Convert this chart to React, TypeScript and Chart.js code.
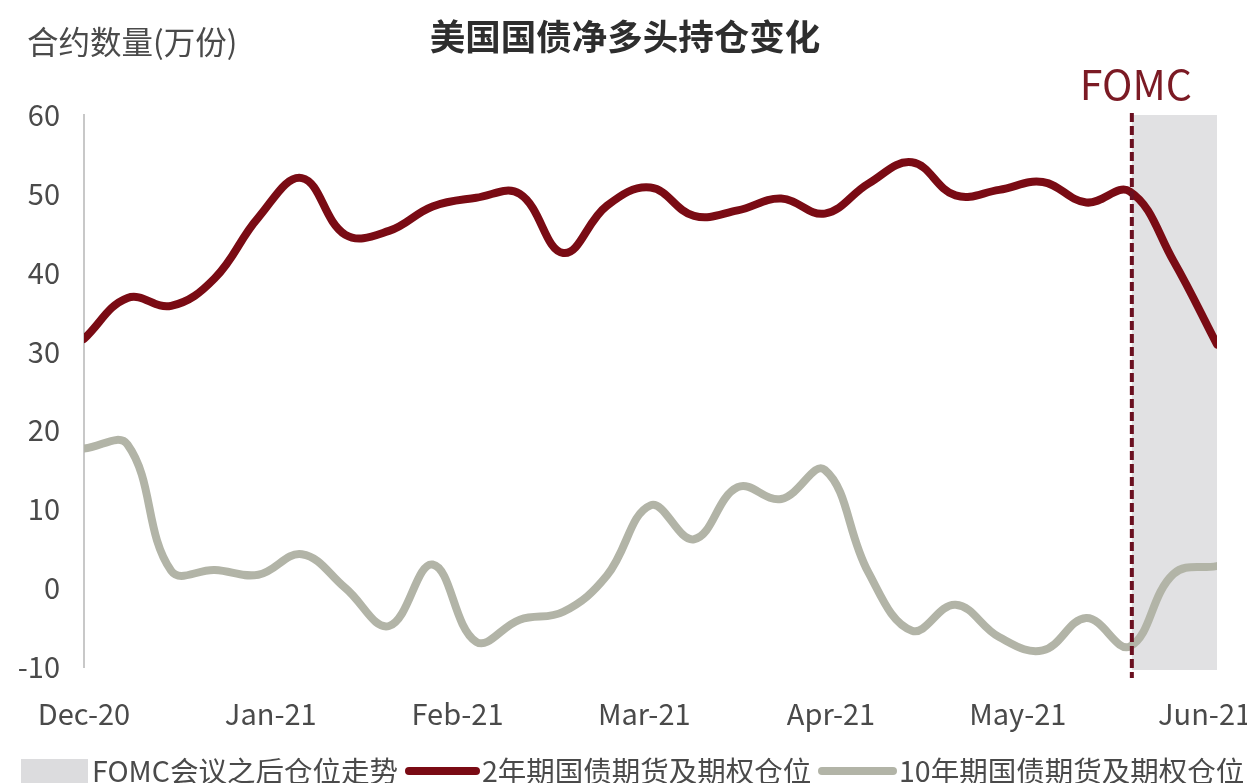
import React, { useEffect, useRef } from "react";
import { Chart, registerables } from "chart.js";

Chart.register(...registerables);

// ---- Data ----
const dates: string[] = [
  "2020-12-29",
  "2021-01-05", "2021-01-12", "2021-01-19", "2021-01-26",
  "2021-02-02", "2021-02-09", "2021-02-16", "2021-02-23",
  "2021-03-02", "2021-03-09", "2021-03-16", "2021-03-23", "2021-03-30",
  "2021-04-06", "2021-04-13", "2021-04-20", "2021-04-27",
  "2021-05-04", "2021-05-11", "2021-05-18", "2021-05-25",
  "2021-06-01", "2021-06-08", "2021-06-15", "2021-06-22", "2021-06-29",
];

const twoYear: number[] = [
  31.6, 36.8, 35.8, 39.3, 47.0, 52.0, 44.8, 45.3, 48.4, 49.5, 50.0, 42.5, 48.5, 50.8,
  47.2, 47.9, 49.4, 47.5, 51.3, 54.0, 49.8, 50.5, 51.5, 48.9, 50.3, 41.5, 30.9,
];

const tenYear: number[] = [
  17.7, 18.2, 2.2, 2.3, 1.7, 4.3, 0.0, -4.8, 3.0, -6.8, -4.0, -3.0, 1.6, 10.5,
  6.2, 12.8, 11.3, 15.0, 2.0, -5.4, -2.1, -6.2, -7.9, -3.8, -7.4, 1.8, 2.8,
];

const tickDates: string[] = [
  "2020-12-29", "2021-01-28", "2021-02-27", "2021-03-29", "2021-04-28", "2021-05-28", "2021-06-27",
];
const tickLabels: string[] = ["Dec-20", "Jan-21", "Feb-21", "Mar-21", "Apr-21", "May-21", "Jun-21"];

const yMin = -10;
const yMax = 60;
const yStep = 10;

const fomcDate = "2021-06-15";

const titleText = "美国国债净多头持仓变化";
const yUnitText = "合约数量(万份)";
const fomcText = "FOMC";
const shadeLabel = "FOMC会议之后仓位走势";
const twoYearLabel = "2年期国债期货及期权仓位";
const tenYearLabel = "10年期国债期货及期权仓位";

// ---- Styles ----
const FONT = '"Noto Sans CJK SC", "Noto Sans", sans-serif';
const RED = "#7A0B14";
const GRAY_LINE = "#B2B4A7";
const SHADE = "#E1E1E3";
const DASH = "#6A1020";
const TEXT = "#4A4A4A";

const toDay = (s: string) => {
  const [y, m, d] = s.split("-").map(Number);
  return Date.UTC(y, m - 1, d) / 86400000;
};

const decorPlugin = {
  id: "decor",
  beforeDatasetsDraw(chart: any) {
    const { ctx, scales } = chart;
    const x0 = scales.x.getPixelForValue(toDay(fomcDate));
    const x1 = scales.x.getPixelForValue(toDay(dates[dates.length - 1]));
    const yT = scales.y.getPixelForValue(yMax);
    const yB = scales.y.getPixelForValue(yMin);
    ctx.save();
    ctx.fillStyle = SHADE;
    ctx.fillRect(x0 + 2, yT, x1 - x0 - 2, yB - yT + 3);
    ctx.restore();
  },
  afterDatasetsDraw(chart: any) {
    const { ctx, chartArea, scales } = chart;
    const x = scales.x.getPixelForValue(toDay(fomcDate)) + 2;
    ctx.save();
    ctx.strokeStyle = DASH;
    ctx.lineWidth = 4;
    ctx.setLineDash([9, 4]);
    ctx.beginPath();
    ctx.moveTo(x, chartArea.top - 2);
    ctx.lineTo(x, chartArea.bottom + 11);
    ctx.stroke();
    ctx.restore();
  },
  afterDraw(chart: any) {
    const { ctx, scales } = chart;
    ctx.save();
    // Title
    ctx.fillStyle = "#2E2E2E";
    ctx.font = `bold 35.5px ${FONT}`;
    ctx.textAlign = "center";
    ctx.textBaseline = "middle";
    ctx.fillText(titleText, 625, 37);
    // Y unit
    ctx.fillStyle = TEXT;
    ctx.font = `31.5px ${FONT}`;
    ctx.textAlign = "left";
    ctx.fillText(yUnitText, 27, 42);
    // FOMC label
    const fx = scales.x.getPixelForValue(toDay(fomcDate));
    ctx.fillStyle = "#7B1A24";
    ctx.font = `41px ${FONT}`;
    ctx.textAlign = "center";
    ctx.fillText(fomcText, fx + 6, 84);

    // Legend
    const ly = 771;
    ctx.font = `28.5px ${FONT}`;
    ctx.textAlign = "left";
    ctx.textBaseline = "middle";
    ctx.fillStyle = "#DCDCDE";
    ctx.fillRect(21, ly - 12, 67, 24);
    ctx.fillStyle = TEXT;
    ctx.fillText(shadeLabel, 92, ly);
    ctx.lineWidth = 8;
    ctx.lineCap = "round";
    ctx.strokeStyle = RED;
    ctx.beginPath();
    ctx.moveTo(409, ly);
    ctx.lineTo(476, ly);
    ctx.stroke();
    ctx.fillText(twoYearLabel, 482, ly);
    ctx.strokeStyle = GRAY_LINE;
    ctx.beginPath();
    ctx.moveTo(822, ly);
    ctx.lineTo(893, ly);
    ctx.stroke();
    ctx.fillText(tenYearLabel, 899, ly);
    ctx.restore();
  },
};

export default function App() {
  const ref = useRef<HTMLCanvasElement | null>(null);

  useEffect(() => {
    if (!ref.current) return;
    const chart = new Chart(ref.current, {
      type: "line",
      data: {
        datasets: [
          {
            label: twoYearLabel,
            data: dates.map((d, i) => ({ x: toDay(d), y: twoYear[i] })),
            borderColor: RED,
            backgroundColor: RED,
            borderWidth: 8,
            tension: 0.4,
            pointRadius: 0,
            fill: false,
            borderCapStyle: "round",
            borderJoinStyle: "round",
          },
          {
            label: tenYearLabel,
            data: dates.map((d, i) => ({ x: toDay(d), y: tenYear[i] })),
            borderColor: GRAY_LINE,
            backgroundColor: GRAY_LINE,
            borderWidth: 8,
            tension: 0.4,
            pointRadius: 0,
            fill: false,
            borderCapStyle: "round",
            borderJoinStyle: "round",
          },
        ],
      },
      options: {
        animation: false,
        responsive: false,
        devicePixelRatio: 1,
        layout: { padding: { top: 115, right: 30, bottom: 0, left: 0 } },
        plugins: {
          legend: { display: false },
          title: { display: false },
          tooltip: { enabled: false },
        },
        scales: {
          x: {
            type: "linear",
            min: toDay(dates[0]),
            max: toDay(dates[dates.length - 1]),
            afterBuildTicks: (s: any) => {
              s.ticks = tickDates.map((d) => ({ value: toDay(d) }));
            },
            afterFit: (s: any) => {
              s.height = 116;
              s.paddingLeft = 0;
              s.paddingRight = 0;
            },
            ticks: {
              callback: (_v: any, i: number) => tickLabels[i],
              font: { family: FONT, size: 29 },
              color: TEXT,
              padding: 30,
              maxRotation: 0,
              autoSkip: false,
            },
            grid: { display: false, drawTicks: false },
            border: { display: false },
          },
          y: {
            min: yMin,
            max: yMax,
            afterFit: (s: any) => {
              s.width = 84;
            },
            ticks: {
              stepSize: yStep,
              font: { family: FONT, size: 29 },
              color: TEXT,
              padding: 24,
            },
            grid: { display: false, drawTicks: false },
            border: { display: true, color: "#C8C8C8", width: 2 },
          },
        },
      },
      plugins: [decorPlugin],
    } as any);
    return () => chart.destroy();
  }, []);

  return (
    <div style={{ position: "fixed", left: 0, top: 0, width: 1247, height: 783, background: "#fff" }}>
      <canvas ref={ref} width={1247} height={783} style={{ display: "block" }} />
    </div>
  );
}
